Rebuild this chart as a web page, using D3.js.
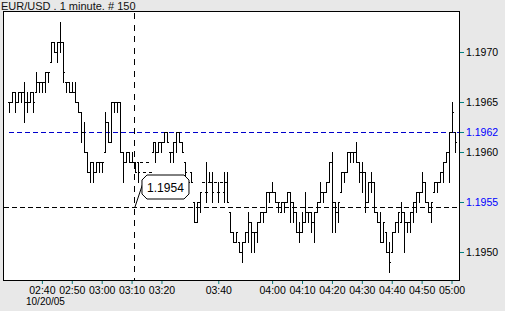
<!DOCTYPE html>
<html>
<head>
<meta charset="utf-8">
<script src="https://cdnjs.cloudflare.com/ajax/libs/d3/7.8.5/d3.min.js"></script>
<style>
  body { margin: 0; background: #e8e8e8; }
  svg { display: block; }
  text { font-family: 'Liberation Sans', Arial, sans-serif; }
</style>
</head>
<body>
<div id="chart"></div>
<script>
// EUR/USD, 1 minute bars, 150 bars (prices in pips above 1.1950)
const title = 'EUR/USD . 1 minute. # 150';
const dateLabel = '10/20/05';
const base = 1.1950;
const pip = 0.0001;

const barTimes = `
02:29 02:30 02:31 02:32 02:33 02:34 02:35 02:36 02:37 02:38 02:39
02:40 02:41 02:42 02:43 02:44 02:45 02:46 02:47 02:48 02:49
02:50 02:51 02:52 02:53 02:54 02:55 02:56 02:57 02:58 02:59
03:00 03:01 03:02 03:03 03:04 03:05 03:06 03:07 03:08 03:09
03:10 03:11 03:12 03:13 03:14 03:15 03:16 03:17 03:18 03:19
03:20 03:21 03:22 03:23 03:24 03:25 03:26 03:27 03:28 03:29
03:31 03:32 03:33 03:34 03:35 03:36 03:37 03:38 03:39
03:40 03:41 03:42 03:43 03:44 03:45 03:46 03:48 03:49 03:50 03:51 03:52
03:54 03:55 03:56 03:57 03:58 03:59
04:00 04:01 04:02 04:03 04:04 04:05 04:06 04:07 04:08 04:09
04:10 04:11 04:12 04:13 04:14 04:15 04:16 04:17 04:18 04:19
04:20 04:21 04:22 04:23 04:24 04:25 04:26 04:27 04:28 04:29
04:30 04:31 04:32 04:33 04:34 04:35 04:36 04:37 04:38 04:39
04:40 04:41 04:42 04:43 04:44 04:45 04:46 04:47 04:48 04:49
04:50 04:51 04:52 04:53 04:54 04:55 04:56 04:57 04:58 04:59
05:00 05:01`.trim().split(/\s+/);

const opens = [
  15, 15, 16, 15, 16, 16, 15, 15, 16, 16,
  17, 17, 17, 18, 19, 21, 20, 21, 21, 17,
  17, 16, 16, 15, 14, 12, 10, 8, 9, 8,
  9, 9, 10, 13, 11, 15, 15, 15, 10, 9,
  10, 9, 9, 9, 9, 8, 9, 8, 10, 11,
  10, 11, 11, 12, 10, 10, 11, 12, 11, 9,
  7, 8, 5, 3, 5, 7, 6, 7, 7, 7,
  6, 7, 6, 7, 4, 2, 1, 1, 0, 1,
  2, 3, 2, 2, 3, 4, 4, 6, 6, 6,
  5, 4, 5, 5, 6, 5, 4, 2, 2, 3,
  4, 4, 3, 4, 5, 6, 6, 7, 9, 5,
  4, 6, 8, 8, 10, 10, 10, 9, 8, 8,
  5, 7, 7, 4, 3, 1, 2, 0, 0, 2,
  3, 3, 4, 3, 3, 4, 5, 6, 6, 7,
  5, 4, 6, 7, 7, 8, 9, 10, 12, 12
];
const highs = [
  15, 16, 16, 16, 16, 17, 16, 16, 16, 18,
  17, 17, 18, 18, 21, 21, 21, 23, 21, 17,
  17, 17, 17, 15, 14, 13, 10, 9, 9, 9,
  9, 9, 14, 13, 15, 15, 15, 15, 10, 10,
  10, 10, 9, 9, 9, 8, 9, 8, 11, 11,
  11, 11, 12, 12, 10, 11, 12, 12, 11, 9,
  7, 8, 5, 5, 6, 7, 9, 8, 8, 7,
  7, 7, 8, 8, 4, 2, 2, 1, 1, 2,
  4, 3, 2, 3, 4, 4, 6, 6, 7, 6,
  5, 5, 5, 6, 6, 5, 4, 3, 4, 6,
  4, 4, 4, 5, 7, 6, 7, 9, 10, 5,
  5, 8, 8, 10, 10, 10, 11, 9, 9, 8,
  7, 8, 7, 4, 4, 3, 2, 1, 2, 3,
  4, 5, 4, 3, 4, 5, 6, 6, 8, 7,
  5, 5, 7, 7, 8, 9, 10, 12, 15, 12
];
const lows = [
  14, 15, 14, 15, 15, 13, 14, 15, 14, 16,
  16, 16, 16, 17, 19, 20, 19, 20, 17, 16,
  16, 16, 15, 14, 11, 10, 8, 7, 7, 8,
  8, 8, 10, 11, 11, 14, 14, 10, 7, 9,
  9, 9, 8, 7, 9, 8, 9, 8, 10, 9,
  10, 10, 11, 11, 9, 9, 10, 11, 10, 7,
  7, 7, 3, 3, 4, 7, 5, 7, 5, 7,
  5, 7, 5, 5, 2, 1, 1, 0, -1, 1,
  1, 0, 0, 1, 3, 3, 4, 5, 6, 5,
  4, 4, 4, 5, 3, 3, 2, 1, 2, 3,
  3, 2, 1, 4, 5, 5, 6, 7, 2, 2,
  3, 6, 7, 8, 9, 9, 9, 7, 6, 4,
  5, 6, 4, 3, 1, 1, 0, -2, 0, 2,
  2, 3, 0, 2, 2, 3, 4, 5, 6, 5,
  4, 3, 6, 6, 7, 7, 9, 7, 12, 10
];
const closes = [
  15, 16, 15, 16, 16, 15, 15, 16, 15, 17,
  17, 17, 18, 18, 21, 20, 21, 21, 18, 17,
  16, 16, 15, 14, 12, 10, 8, 9, 8, 9,
  9, 9, 13, 11, 15, 15, 15, 10, 9, 10,
  9, 9, 8, 8, 9, 8, 9, 8, 11, 10,
  11, 11, 12, 11, 10, 11, 12, 11, 10, 8,
  7, 7, 3, 5, 6, 7, 6, 7, 6, 7,
  6, 7, 7, 5, 2, 1, 2, 0, 1, 2,
  3, 2, 2, 3, 4, 4, 6, 6, 6, 5,
  5, 5, 5, 6, 5, 4, 2, 2, 3, 4,
  4, 3, 4, 5, 6, 6, 7, 9, 5, 4,
  5, 8, 8, 10, 10, 10, 9, 8, 8, 5,
  7, 7, 4, 3, 1, 3, 0, -1, 2, 3,
  4, 4, 3, 3, 4, 5, 6, 6, 7, 5,
  4, 5, 7, 7, 8, 9, 10, 12, 14, 11
];

const priceTicks = [1.1950, 1.1955, 1.1960, 1.1962, 1.1965, 1.1970];
const bluePriceTicks = [1.1955, 1.1962];
const markerLevel = 1.1962;       // blue dashed line
const cursorPrice = 1.19545;      // black dashed cross hair
const cursorBar = 41.8;           // cursor sits just right of 03:10
const cursorLabel = '1.1954';

const bars = opens.map((o, i) => ({
  i: i,
  time: barTimes[i],
  open: base + o * pip,
  high: base + highs[i] * pip,
  low: base + lows[i] * pip,
  close: base + closes[i] * pip
}));

const width = 505;
const height = 311;
const plot = { left: 3, top: 11, right: 459, bottom: 280 };
const labelGap = 28;

const svg = d3.select('#chart').append('svg')
  .attr('width', width)
  .attr('height', height);

svg.append('rect')
  .attr('width', width).attr('height', height)
  .attr('fill', '#e8e8e8');

/* Scale */
const xScale = d3.scaleLinear()
  .domain([-2, 150.5])
  .range([plot.left, plot.right]);

const yScale = d3.scaleLinear()
  .domain([1.19472, 1.19741])
  .range([plot.bottom, plot.top]);

const px = v => Math.round(v) + 0.5;

/* Plot frame */
svg.append('rect')
  .attr('x', plot.left + 0.5)
  .attr('y', plot.top + 0.5)
  .attr('width', plot.right - plot.left)
  .attr('height', plot.bottom - plot.top)
  .attr('fill', '#fff')
  .attr('stroke', '#000');

/* Dashed guide lines */
const guides = svg.append('g').attr('shape-rendering', 'crispEdges');
guides.append('line')
  .attr('x1', xScale(0)).attr('x2', plot.right)
  .attr('y1', px(yScale(markerLevel))).attr('y2', px(yScale(markerLevel)))
  .attr('stroke', '#0000cc').attr('stroke-dasharray', '5,3');
guides.append('line')
  .attr('x1', plot.left + 1).attr('x2', plot.right)
  .attr('y1', px(yScale(cursorPrice))).attr('y2', px(yScale(cursorPrice)))
  .attr('stroke', '#000').attr('stroke-dasharray', '5,3');
guides.append('line')
  .attr('x1', px(xScale(cursorBar))).attr('x2', px(xScale(cursorBar)))
  .attr('y1', plot.top + 2).attr('y2', plot.bottom)
  .attr('stroke', '#000').attr('stroke-dasharray', '6,5.5');

/* OHLC bars */
svg.append('g')
  .attr('class', 'bars')
  .attr('shape-rendering', 'crispEdges')
  .selectAll('path')
  .data(bars).enter()
  .append('path')
  .attr('fill', 'none')
  .attr('stroke', '#000')
  .attr('d', d => {
    const x = Math.round(xScale(d.i));
    const yh = Math.round(yScale(d.high));
    const yl = Math.round(yScale(d.low));
    const yo = Math.round(yScale(d.open)) + 0.5;
    const yc = Math.round(yScale(d.close)) + 0.5;
    return `M${x + 0.5},${yh}V${yl + 1}` +
      `M${x - 1},${yo}H${x + 1}` +
      `M${x},${yc}H${x + 2}`;
  });

/* Cursor callout */
const cx = xScale(cursorBar);
const cy = yScale(cursorPrice);
const bx = cx + 8, by = cy - 32, bw = 47, bh = 24, c = 5;
const callout = svg.append('g').attr('class', 'callout');
callout.append('line')
  .attr('x1', cx + 1).attr('y1', cy)
  .attr('x2', bx + 2).attr('y2', by + 5)
  .attr('stroke', '#000');
callout.append('path')
  .attr('d', `M${bx + c},${by}H${bx + bw - c}L${bx + bw},${by + c}V${by + bh - c}` +
    `L${bx + bw - c},${by + bh}H${bx + c}L${bx},${by + bh - c}V${by + c}Z`)
  .attr('fill', '#fff')
  .attr('stroke', '#000');
callout.append('text')
  .attr('x', bx + bw / 2).attr('y', by + bh / 2 + 4.5)
  .attr('text-anchor', 'middle')
  .attr('font-size', '12px')
  .text(cursorLabel);

/* Axis: a label every 10 minutes, dropped when it would crowd its neighbour */
const tickBars = [];
bars.filter(d => d.time.endsWith('0')).forEach(d => {
  const x = xScale(d.i);
  const last = tickBars.length ? xScale(tickBars[tickBars.length - 1]) : plot.left - labelGap / 2;
  if (x - last >= labelGap) tickBars.push(d.i);
});

const xAxis = d3.axisBottom(xScale)
  .tickValues(tickBars)
  .tickFormat(i => barTimes[i])
  .tickSize(3)
  .tickPadding(3);
const gx = svg.append('g')
  .attr('transform', `translate(0, ${plot.bottom + 1})`)
  .call(xAxis);

const yAxis = d3.axisRight(yScale)
  .tickValues(priceTicks)
  .tickFormat(d3.format('.4f'))
  .tickSize(4)
  .tickPadding(2);
const gy = svg.append('g')
  .attr('transform', `translate(${plot.right + 1}, 0)`)
  .call(yAxis);

[gx, gy].forEach(g => {
  g.select('.domain').remove();
  g.selectAll('.tick line').attr('stroke', '#008080');
  g.selectAll('.tick text')
    .attr('font-size', '10.5px')
    .attr('font-family', "'Liberation Sans', Arial, sans-serif")
    .attr('fill', '#000');
});
gy.selectAll('.tick text')
  .attr('fill', d => bluePriceTicks.includes(d) ? '#0000ff' : '#000');

svg.append('text')
  .attr('x', 26).attr('y', 305)
  .attr('font-size', '10px')
  .text(dateLabel);

svg.append('text')
  .attr('x', 1).attr('y', 9.5)
  .attr('font-size', '11px')
  .attr('fill', '#111')
  .text(title);
</script>
</body>
</html>
